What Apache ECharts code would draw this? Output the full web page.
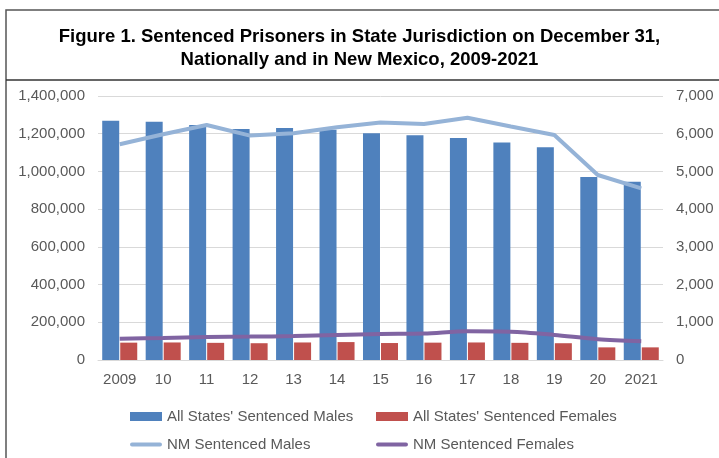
<!DOCTYPE html>
<html>
<head>
<meta charset="utf-8">
<script src="https://cdn.jsdelivr.net/npm/echarts@6/dist/echarts.min.js"></script>
<style>
  html, body { margin: 0; padding: 0; background: #fff; }
  #chart { width: 719px; height: 458px; }
</style>
</head>
<body>
<div id="chart"></div>
<script>
// categories / values
const years = ['2009', '10', '11', '12', '13', '14', '15', '16', '17', '18', '19', '20', '2021']
const allMales = [1269000, 1264000, 1246000, 1225000, 1230000, 1221000, 1202000, 1192000, 1177000, 1154000, 1128000, 970000, 945000]
const allFemales = [92000, 93000, 91000, 89000, 93000, 95000, 90000, 92000, 93000, 91000, 89000, 67000, 67000]
const nmMales = [5720, 5985, 6230, 5950, 6010, 6170, 6295, 6260, 6425, 6190, 5965, 4905, 4550]
const nmFemales = [565, 585, 610, 620, 635, 665, 690, 700, 760, 750, 665, 550, 500]

const textColor = '#595959'
const gridColor = '#d9d9d9'

const myChart = echarts.init(document.getElementById('chart'))

// legend helper, one per item so positions match the original
function legendAt(name, left, top, icon, h) {
  return {
    data: [{ name: name, icon: icon }],
    left: left,
    top: top,
    itemWidth: 32,
    itemHeight: h,
    itemGap: 0,
    textStyle: { color: textColor, fontSize: 15, fontFamily: 'Liberation Sans' }
  }
}

const lineIcon = 'path://M2,0 L30,0 A2,2 0 0 1 30,4 L2,4 A2,2 0 0 1 2,0 Z'

const option = {
  animation: false,
  title: {
    text: 'Figure 1. Sentenced Prisoners in State Jurisdiction on December 31,\nNationally and in New Mexico, 2009-2021',
    left: 'center',
    top: 20,
    textStyle: {
      fontFamily: 'Liberation Sans',
      fontWeight: 'bold',
      fontSize: 18.5,
      color: '#000',
      lineHeight: 23
    }
  },
  graphic: [
    {
      type: 'rect',
      shape: { x: 6, y: 10, width: 740, height: 480 },
      style: { fill: 'none', stroke: '#555', lineWidth: 1.5 },
      silent: true
    },
    {
      type: 'line',
      shape: { x1: 6, y1: 80, x2: 719, y2: 80 },
      style: { stroke: '#333', lineWidth: 1.5 },
      silent: true
    }
  ],
  legend: [
    legendAt("All States' Sentenced Males", 125, 404, 'rect', 9),
    legendAt("All States' Sentenced Females", 371, 404, 'rect', 9),
    legendAt('NM Sentenced Males', 125, 432, lineIcon, 4),
    legendAt('NM Sentenced Females', 371, 432, lineIcon, 4)
  ],
  grid: {
    left: 98,
    right: 56,
    top: 96,
    bottom: 98
  },
  xAxis: {
    type: 'category',
    data: years,
    axisTick: { show: false },
    axisLine: { lineStyle: { color: gridColor, width: 1 } },
    axisLabel: { color: textColor, fontSize: 15, fontFamily: 'Liberation Sans', margin: 12 }
  },
  yAxis: [
    {
      type: 'value',
      min: 0,
      max: 1400000,
      interval: 200000,
      axisLine: { show: false },
      axisTick: { show: false },
      axisLabel: {
        color: textColor,
        fontSize: 15,
        fontFamily: 'Liberation Sans',
        margin: 13,
        formatter: v => v.toLocaleString('en-US')
      },
      splitLine: { lineStyle: { color: gridColor } }
    },
    {
      type: 'value',
      min: 0,
      max: 7000,
      interval: 1000,
      axisLine: { show: false },
      axisTick: { show: false },
      axisLabel: {
        color: textColor,
        fontSize: 15,
        fontFamily: 'Liberation Sans',
        margin: 13,
        formatter: v => v.toLocaleString('en-US')
      },
      splitLine: { show: false }
    }
  ],
  series: [
    {
      name: "All States' Sentenced Males",
      type: 'bar',
      data: allMales,
      barWidth: 17,
      barGap: '6%',
      itemStyle: { color: '#4F81BD' }
    },
    {
      name: "All States' Sentenced Females",
      type: 'bar',
      data: allFemales,
      barWidth: 17,
      itemStyle: { color: '#C0504D' }
    },
    {
      name: 'NM Sentenced Males',
      type: 'line',
      yAxisIndex: 1,
      data: nmMales,
      symbol: 'none',
      lineStyle: { color: '#95B3D7', width: 4 },
      itemStyle: { color: '#95B3D7' }
    },
    {
      name: 'NM Sentenced Females',
      type: 'line',
      yAxisIndex: 1,
      data: nmFemales,
      symbol: 'none',
      smooth: 0.3,
      lineStyle: { color: '#8064A2', width: 4 },
      itemStyle: { color: '#8064A2' }
    }
  ]
}

myChart.setOption(option)
window.addEventListener('resize', () => {
  if (myChart) {
    myChart.resize()
  }
})
</script>
</body>
</html>
